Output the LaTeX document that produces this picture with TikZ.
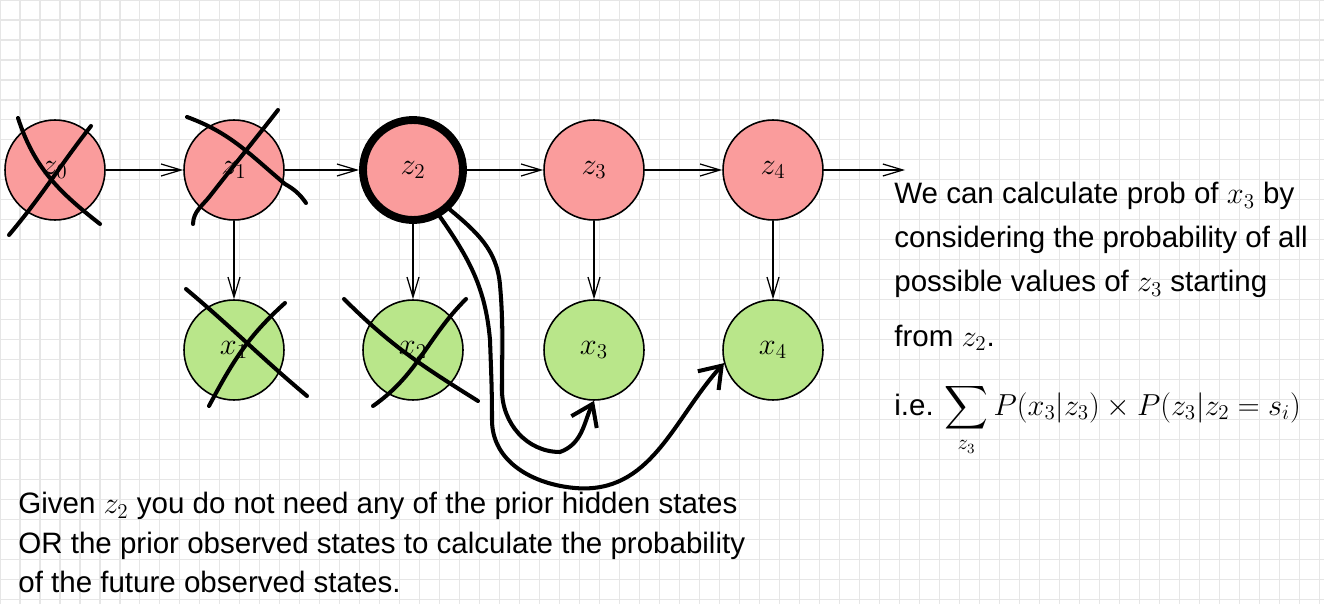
\documentclass[tikz,border=0pt]{standalone}
\usepackage{amsmath}
\usepackage{fontspec}
\setmainfont{Liberation Sans}
\usepackage{tikz}
\usetikzlibrary{arrows.meta, positioning}
\definecolor{hiddenfill}{HTML}{FA9C9C}
\definecolor{obsfill}{HTML}{B9E68A}
\definecolor{gridgray}{HTML}{E6E6E6}

\begin{document}
\begin{tikzpicture}[
    x=0.02cm, y=0.02cm,
    hidden/.style={circle, draw=black, line width=0.9pt, fill=hiddenfill, minimum size=2cm, inner sep=0pt, font=\fontsize{16.8}{20}\selectfont},
    observed/.style={hidden, fill=obsfill},
    given/.style={hidden, line width=4.5pt},
    arrow/.style={-{Straight Barb[length=0.4cm, width=0.24cm]}, line width=0.7pt},
    cross/.style={line width=2.3pt, line cap=round},
    jump/.style={cross, -{Straight Barb[length=0.4cm, width=0.56cm]}},
    annotation/.style={inner sep=0pt, align=left, font=\fontsize{16.8}{25}\selectfont}
]
\useasboundingbox (0,-604) rectangle (1324,0);

% Background grid
\draw[gridgray, line width=0.6pt] (0,-604) grid[step=0.4cm] (1324,0);

% Hidden states
\node[hidden] (z0) at (55,-170) {$z_0$};
\node[hidden] (z1) at (234,-170) {$z_1$};
\node[given] (z2) at (413,-170) {$z_2$};
\node[hidden] (z3) at (594,-170) {$z_3$};
\node[hidden] (z4) at (773,-170) {$z_4$};
\coordinate (zend) at (905,-170);

% Observed states
\node[observed] (x1) at (234,-350) {$x_1$};
\node[observed] (x2) at (413,-350) {$x_2$};
\node[observed] (x3) at (594,-350) {$x_3$};
\node[observed] (x4) at (773,-350) {$x_4$};

% Transitions
\draw[arrow] (z0) -- (z1);
\draw[arrow] (z1) -- (z2);
\draw[arrow] (z2) -- (z3);
\draw[arrow] (z3) -- (z4);
\draw[arrow] (z4) -- (zend);

% Emissions
\draw[arrow] (z1) -- (x1);
\draw[arrow] (z2) -- (x2);
\draw[arrow] (z3) -- (x3);
\draw[arrow] (z4) -- (x4);

% Crossed out states
\draw[cross] (18,-118) to[out=-72,in=142] (100,-224);
\draw[cross] (9,-235) to[out=50,in=-128] (91,-126);
\draw[cross] (187,-117) to[out=-20,in=140] (285,-184) to[out=-30,in=125] (306,-203);
\draw[cross] (193,-224) to[out=88,in=-128] (210,-196) to[out=52,in=-128] (278,-110);
\draw[cross] (186,-289) to[out=-40,in=140] (307,-396);
\draw[cross] (209,-406) to[out=62,in=-138] (285,-303);
\draw[cross] (344,-299) to[out=-45,in=148] (478,-401);
\draw[cross] (373,-406) to[out=35,in=-135] (466,-299);

% From z2 to the future observations
\draw[jump] (z2.-47) to[out=-40,in=95] (500,-285) to[out=-85,in=90] (502,-390) to[out=-90,in=180] (560,-452) to[out=20,in=-115] (x3.south);
\draw[jump] (z2.-60) to[out=-55,in=95] (490,-340) to[out=-88,in=90] (492,-420) to[out=-90,in=175] (575,-488) to[out=-5,in=-132] (x4.195);

% Notes
\node[annotation, anchor=north west] (explain) at (894,-182) {We can calculate prob of $x_3$ by\\considering the probability of all\\possible values of $z_3$ starting\\[6pt]from $z_2$.};
\node[annotation, anchor=base west] (formula) at (894,-415) {i.e. $\displaystyle\sum_{z_3}P(x_3|z_3)\times P(z_3|z_2=s_i)$};
\node[annotation, anchor=north west, font=\fontsize{16.8}{22.4}\selectfont] (given) at (18,-492) {Given $z_2$ you do not need any of the prior hidden states\\OR the prior observed states to calculate the probability\\of the future observed states.};

\end{tikzpicture}
\end{document}
